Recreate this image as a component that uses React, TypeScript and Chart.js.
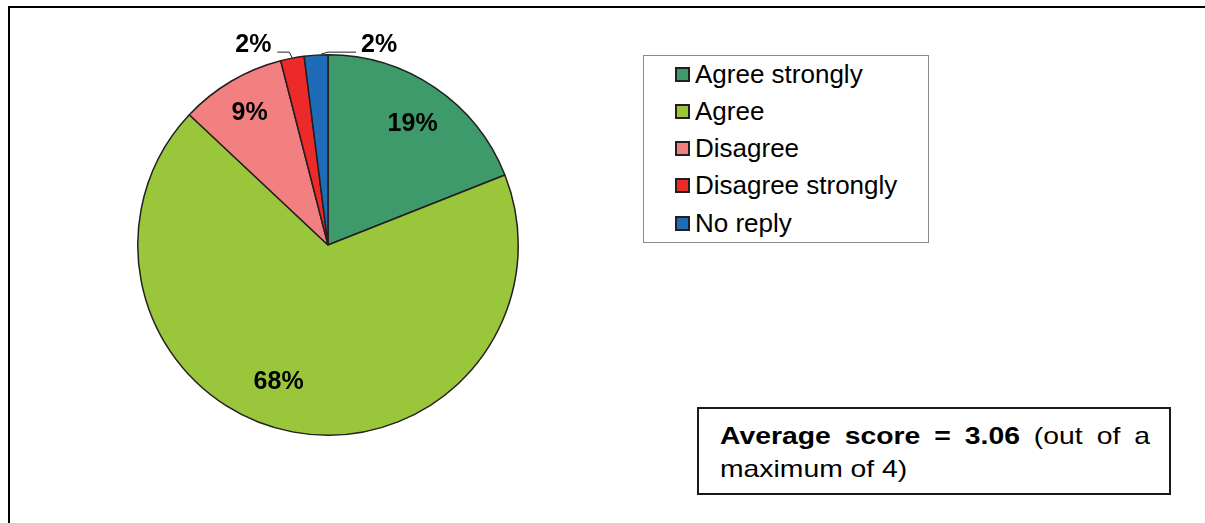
import React, { useEffect, useRef } from "react";
import { Chart, registerables } from "chart.js";

Chart.register(...registerables);

const categories = ["Agree strongly", "Agree", "Disagree", "Disagree strongly", "No reply"];
const values = [19, 68, 9, 2, 2];
const percentLabels = ["19%", "68%", "9%", "2%", "2%"];
const colors = ["#3E9A6B", "#9AC63C", "#F28080", "#EC2A2A", "#1F6CB6"];
const averageScore = "3.06";
const maxScore = 4;

const FONT = "'Liberation Sans', Arial, Helvetica, sans-serif";

type Placement =
  | { inside: true; rFrac: number; angleShift: number }
  | { inside: false; dx: number; dy: number; side: "left" | "right" };

const placements: Placement[] = [
  { inside: true, rFrac: 0.78, angleShift: 0.01 },
  { inside: true, rFrac: 0.76, angleShift: 0.16 },
  { inside: true, rFrac: 0.81, angleShift: 0 },
  { inside: false, dx: -39, dy: -14, side: "left" },
  { inside: false, dx: 63, dy: -11, side: "right" },
];

const labelPlugin = {
  id: "sliceLabels",
  afterDatasetsDraw(chart: any) {
    const ctx = chart.ctx as CanvasRenderingContext2D;
    const meta = chart.getDatasetMeta(0);
    ctx.save();
    ctx.font = `bold 25px ${FONT}`;
    ctx.fillStyle = "#000";
    ctx.textAlign = "center";
    ctx.textBaseline = "middle";
    meta.data.forEach((arc: any, i: number) => {
      const { x, y, startAngle, endAngle, outerRadius } = arc.getProps(
        ["x", "y", "startAngle", "endAngle", "outerRadius"],
        true
      );
      const p = placements[i];
      const mid = (startAngle + endAngle) / 2;
      const text = percentLabels[i];
      if (p.inside) {
        const a = mid + p.angleShift;
        const r = outerRadius * p.rFrac;
        ctx.fillText(text, x + r * Math.cos(a), y + r * Math.sin(a) + 1);
      } else {
        const ex = x + outerRadius * Math.cos(mid);
        const ey = y + outerRadius * Math.sin(mid);
        const tx = ex + p.dx;
        const ty = ey + p.dy;
        const w = ctx.measureText(text).width;
        const ly = ty + 8;
        ctx.strokeStyle = "#231F20";
        ctx.lineWidth = 1;
        ctx.beginPath();
        if (p.side === "left") {
          ctx.moveTo(ex, ey);
          ctx.lineTo(ex - 3, ly);
          ctx.lineTo(tx + w / 2 + 6, ly);
        } else {
          ctx.moveTo(ex + 5, ey - 1);
          ctx.lineTo(ex + 12, ly);
          ctx.lineTo(tx - w / 2 - 5, ly);
        }
        ctx.stroke();
        ctx.fillText(text, tx, ty + 1);
      }
    });
    ctx.restore();
  },
};

export default function App() {
  const canvasRef = useRef<HTMLCanvasElement | null>(null);

  useEffect(() => {
    if (!canvasRef.current) return;
    const chart = new Chart(canvasRef.current, {
      type: "pie",
      data: {
        labels: categories,
        datasets: [
          {
            data: values,
            backgroundColor: colors,
            borderColor: "#231F20",
            borderWidth: 1.5,
          },
        ],
      },
      options: {
        animation: false,
        responsive: false,
        devicePixelRatio: 1,
        layout: { padding: { left: 137, top: 54, right: 686, bottom: 87 } },
        plugins: {
          legend: { display: false },
          tooltip: { enabled: false },
        },
      },
      plugins: [labelPlugin],
    });
    return () => chart.destroy();
  }, []);

  const scale = 1.18;

  return (
    <div
      style={{
        position: "absolute",
        left: 0,
        top: 0,
        width: 1205,
        height: 523,
        background: "#fff",
        overflow: "hidden",
        fontFamily: FONT,
      }}
    >
      <div
        style={{
          position: "absolute",
          left: 8,
          top: 6,
          width: 1205,
          height: 530,
          borderTop: "2px solid #000",
          borderLeft: "2px solid #000",
        }}
      />
      <canvas
        ref={canvasRef}
        width={1205}
        height={523}
        style={{ position: "absolute", left: 0, top: 0, width: 1205, height: 523 }}
      />
      <div
        style={{
          position: "absolute",
          left: 643,
          top: 55,
          width: 286,
          height: 188,
          boxSizing: "border-box",
          border: "1px solid #8c8c8c",
          background: "#fff",
        }}
      >
        {categories.map((c, i) => (
          <div
            key={c}
            style={{
              position: "absolute",
              left: 31,
              top: -0.5 + i * 37.3,
              height: 37,
              display: "flex",
              alignItems: "center",
              whiteSpace: "nowrap",
              fontSize: 26,
              color: "#000",
            }}
          >
            <span
              style={{
                display: "inline-block",
                width: 11,
                height: 11,
                border: "2px solid #231F20",
                background: colors[i],
                marginRight: 5,
              }}
            />
            <span>{c}</span>
          </div>
        ))}
      </div>
      <div
        style={{
          position: "absolute",
          left: 697,
          top: 407,
          width: 474,
          height: 88,
          boxSizing: "border-box",
          border: "2px solid #1a1a1a",
          background: "#fff",
          color: "#000",
          fontSize: 24,
          lineHeight: "33px",
        }}
      >
        <div
          style={{
            position: "absolute",
            left: 21,
            top: 10,
            width: 430 / scale,
            textAlign: "justify",
            textAlignLast: "justify",
            whiteSpace: "nowrap",
            transform: `scaleX(${scale})`,
            transformOrigin: "0 0",
          }}
        >
          <b>Average score = {averageScore}</b> (out of a
        </div>
        <div
          style={{
            position: "absolute",
            left: 21,
            top: 43,
            whiteSpace: "nowrap",
            transform: `scaleX(${scale})`,
            transformOrigin: "0 0",
          }}
        >
          maximum of {maxScore})
        </div>
      </div>
    </div>
  );
}
